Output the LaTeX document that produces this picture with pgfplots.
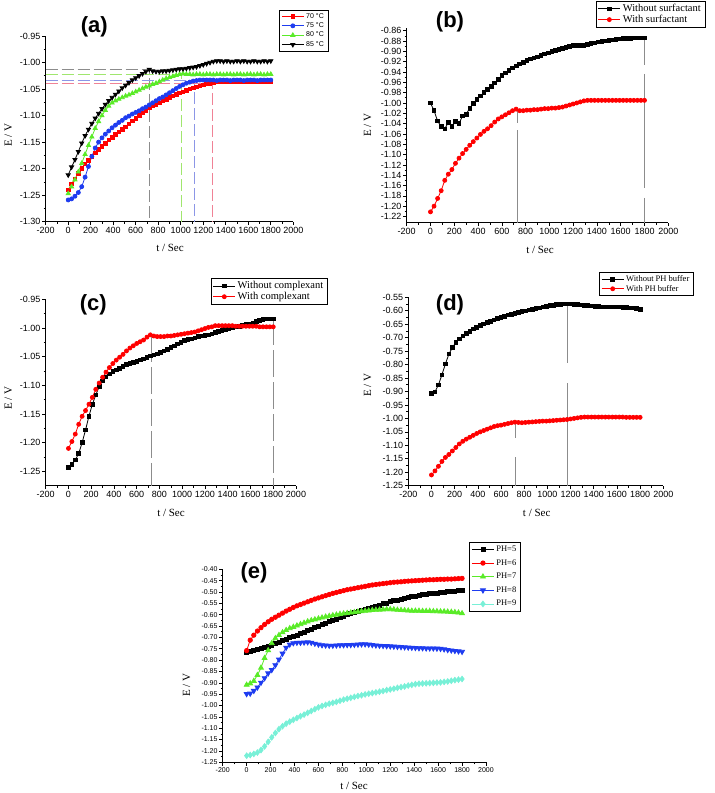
\documentclass[border=0pt]{standalone}
\usepackage{fontspec}
\setmainfont{Liberation Serif}
\newfontfamily\arial{Liberation Sans}
\usepackage{pgfplots}
\usepackage{pgfplotstable}
\pgfplotsset{compat=1.18}

\definecolor{cred}{RGB}{255,0,0}
\definecolor{cblue}{RGB}{30,60,240}
\definecolor{cgreen}{RGB}{90,235,40}
\definecolor{ccyan}{RGB}{120,240,215}
\definecolor{dgray}{RGB}{140,140,140}
\definecolor{dgreen}{RGB}{160,230,110}
\definecolor{dblue}{RGB}{140,150,230}
\definecolor{dpink}{RGB}{240,130,150}

\pgfplotstableread{
t r b g k
0 -1.240 -1.259 -1.247 -1.212
30 -1.229 -1.257 -1.234 -1.197
60 -1.219 -1.252 -1.221 -1.183
90 -1.209 -1.245 -1.206 -1.168
120 -1.199 -1.234 -1.190 -1.152
150 -1.191 -1.216 -1.173 -1.138
180 -1.184 -1.196 -1.156 -1.126
210 -1.177 -1.177 -1.140 -1.115
240 -1.170 -1.161 -1.124 -1.105
270 -1.164 -1.150 -1.111 -1.096
300 -1.158 -1.142 -1.100 -1.087
330 -1.152 -1.135 -1.090 -1.079
360 -1.146 -1.129 -1.082 -1.072
390 -1.141 -1.123 -1.076 -1.066
420 -1.136 -1.118 -1.072 -1.060
450 -1.131 -1.113 -1.069 -1.054
480 -1.126 -1.109 -1.066 -1.048
510 -1.121 -1.104 -1.063 -1.043
540 -1.116 -1.101 -1.061 -1.038
570 -1.110 -1.097 -1.058 -1.033
600 -1.105 -1.094 -1.055 -1.029
630 -1.100 -1.091 -1.052 -1.025
660 -1.095 -1.087 -1.049 -1.021
690 -1.090 -1.084 -1.046 -1.017
720 -1.085 -1.080 -1.044 -1.013
750 -1.082 -1.076 -1.041 -1.016
780 -1.079 -1.072 -1.039 -1.017
810 -1.076 -1.068 -1.036 -1.017
840 -1.072 -1.065 -1.033 -1.016
870 -1.069 -1.061 -1.030 -1.016
900 -1.066 -1.057 -1.028 -1.015
930 -1.063 -1.053 -1.026 -1.014
960 -1.060 -1.049 -1.024 -1.013
990 -1.057 -1.045 -1.022 -1.012
1020 -1.055 -1.042 -1.021 -1.012
1050 -1.053 -1.039 -1.022 -1.011
1080 -1.050 -1.037 -1.022 -1.010
1110 -1.048 -1.035 -1.023 -1.009
1140 -1.046 -1.034 -1.022 -1.008
1170 -1.044 -1.033 -1.022 -1.006
1200 -1.042 -1.033 -1.023 -1.004
1230 -1.040 -1.033 -1.022 -1.002
1260 -1.039 -1.033 -1.022 -1.000
1290 -1.037 -1.033 -1.023 -0.998
1320 -1.036 -1.034 -1.022 -0.997
1350 -1.036 -1.033 -1.022 -0.997
1380 -1.036 -1.033 -1.023 -0.998
1410 -1.036 -1.033 -1.022 -0.997
1440 -1.036 -1.034 -1.022 -0.998
1470 -1.036 -1.033 -1.023 -0.998
1500 -1.036 -1.033 -1.022 -0.997
1530 -1.036 -1.033 -1.022 -0.998
1560 -1.036 -1.034 -1.023 -0.997
1590 -1.036 -1.033 -1.022 -0.998
1620 -1.036 -1.033 -1.022 -0.998
1650 -1.036 -1.033 -1.023 -0.997
1680 -1.036 -1.034 -1.022 -0.998
1710 -1.036 -1.033 -1.022 -0.998
1740 -1.036 -1.033 -1.023 -0.997
1770 -1.036 -1.033 -1.022 -0.998
1800 -1.036 -1.033 -1.022 -0.997
}\tabA

\pgfplotstableread{
t k r
0 -1.000 -1.211
30 -1.015 -1.200
60 -1.035 -1.185
90 -1.046 -1.170
120 -1.050 -1.150
150 -1.038 -1.138
180 -1.046 -1.129
210 -1.036 -1.117
240 -1.040 -1.107
270 -1.025 -1.098
300 -1.022 -1.090
330 -1.010 -1.082
360 -1.001 -1.075
390 -0.993 -1.068
420 -0.986 -1.061
450 -0.980 -1.055
480 -0.974 -1.050
510 -0.968 -1.044
540 -0.961 -1.037
570 -0.954 -1.031
600 -0.947 -1.027
630 -0.942 -1.023
660 -0.937 -1.019
690 -0.932 -1.015
720 -0.928 -1.012
750 -0.924 -1.015
780 -0.921 -1.015
810 -0.918 -1.014
840 -0.915 -1.014
870 -0.913 -1.013
900 -0.911 -1.013
930 -0.908 -1.012
960 -0.905 -1.011
990 -0.903 -1.011
1020 -0.900 -1.010
1050 -0.898 -1.010
1080 -0.896 -1.009
1110 -0.894 -1.008
1140 -0.892 -1.006
1170 -0.890 -1.004
1200 -0.889 -1.002
1230 -0.889 -1.000
1260 -0.888 -0.998
1290 -0.888 -0.996
1320 -0.887 -0.995
1350 -0.885 -0.995
1380 -0.884 -0.995
1410 -0.882 -0.995
1440 -0.881 -0.995
1470 -0.880 -0.995
1500 -0.879 -0.995
1530 -0.878 -0.995
1560 -0.877 -0.995
1590 -0.876 -0.995
1620 -0.875 -0.995
1650 -0.875 -0.995
1680 -0.875 -0.995
1710 -0.874 -0.995
1740 -0.874 -0.995
1770 -0.874 -0.995
1800 -0.874 -0.995
}\tabB

\pgfplotstableread{
t k r
0 -1.243 -1.210
30 -1.238 -1.198
60 -1.230 -1.185
90 -1.219 -1.168
120 -1.200 -1.154
150 -1.178 -1.144
180 -1.154 -1.133
210 -1.133 -1.121
240 -1.117 -1.107
270 -1.102 -1.096
300 -1.092 -1.086
330 -1.085 -1.077
360 -1.080 -1.069
390 -1.076 -1.062
420 -1.073 -1.056
450 -1.070 -1.051
480 -1.067 -1.046
510 -1.064 -1.040
540 -1.062 -1.035
570 -1.060 -1.031
600 -1.058 -1.027
630 -1.056 -1.024
660 -1.054 -1.021
690 -1.051 -1.016
720 -1.049 -1.012
750 -1.047 -1.014
780 -1.045 -1.015
810 -1.043 -1.015
840 -1.040 -1.015
870 -1.037 -1.014
900 -1.034 -1.014
930 -1.031 -1.013
960 -1.028 -1.012
990 -1.025 -1.011
1020 -1.022 -1.010
1050 -1.020 -1.009
1080 -1.019 -1.008
1110 -1.017 -1.007
1140 -1.015 -1.005
1170 -1.014 -1.003
1200 -1.013 -1.001
1230 -1.012 -0.999
1260 -1.010 -0.998
1290 -1.008 -0.996
1320 -1.006 -0.996
1350 -1.004 -0.996
1380 -1.003 -0.996
1410 -1.001 -0.996
1440 -0.999 -0.996
1470 -0.998 -0.997
1500 -0.997 -0.997
1530 -0.996 -0.997
1560 -0.994 -0.997
1590 -0.993 -0.997
1620 -0.991 -0.997
1650 -0.989 -0.997
1680 -0.987 -0.998
1710 -0.985 -0.998
1740 -0.984 -0.998
1770 -0.984 -0.998
1800 -0.984 -0.998
}\tabC

\pgfplotstableread{
t k r
0 -0.908 -1.210
30 -0.901 -1.195
60 -0.876 -1.178
90 -0.838 -1.160
120 -0.798 -1.145
150 -0.761 -1.134
180 -0.737 -1.121
210 -0.718 -1.108
240 -0.704 -1.095
270 -0.693 -1.085
300 -0.684 -1.077
330 -0.676 -1.070
360 -0.668 -1.063
390 -0.661 -1.056
420 -0.655 -1.050
450 -0.649 -1.045
480 -0.644 -1.040
510 -0.639 -1.035
540 -0.634 -1.030
570 -0.629 -1.027
600 -0.624 -1.025
630 -0.620 -1.022
660 -0.616 -1.019
690 -0.613 -1.016
720 -0.609 -1.014
750 -0.606 -1.015
780 -0.603 -1.016
810 -0.600 -1.015
840 -0.597 -1.014
870 -0.594 -1.013
900 -0.591 -1.012
930 -0.589 -1.011
960 -0.586 -1.010
990 -0.583 -1.010
1020 -0.581 -1.009
1050 -0.579 -1.008
1080 -0.577 -1.007
1110 -0.576 -1.006
1140 -0.575 -1.005
1170 -0.575 -1.004
1200 -0.575 -1.002
1230 -0.576 -1.000
1260 -0.577 -0.998
1290 -0.578 -0.996
1320 -0.580 -0.995
1350 -0.581 -0.995
1380 -0.582 -0.995
1410 -0.583 -0.995
1440 -0.584 -0.995
1470 -0.585 -0.995
1500 -0.585 -0.995
1530 -0.585 -0.995
1560 -0.585 -0.995
1590 -0.585 -0.995
1620 -0.586 -0.995
1650 -0.587 -0.995
1680 -0.588 -0.996
1710 -0.589 -0.996
1740 -0.590 -0.996
1770 -0.592 -0.996
1800 -0.594 -0.996
}\tabD

\pgfplotstableread{
t k r g b c
0 -0.767 -0.758 -0.909 -0.949 -1.221
30 -0.762 -0.712 -0.903 -0.947 -1.218
60 -0.757 -0.690 -0.892 -0.935 -1.213
90 -0.752 -0.672 -0.866 -0.920 -1.207
120 -0.748 -0.657 -0.834 -0.899 -1.196
150 -0.744 -0.643 -0.791 -0.879 -1.180
180 -0.740 -0.631 -0.757 -0.858 -1.160
210 -0.734 -0.620 -0.726 -0.843 -1.140
240 -0.727 -0.611 -0.704 -0.822 -1.121
270 -0.721 -0.602 -0.690 -0.797 -1.104
300 -0.715 -0.593 -0.678 -0.771 -1.091
330 -0.708 -0.584 -0.668 -0.745 -1.080
360 -0.701 -0.576 -0.660 -0.731 -1.071
390 -0.695 -0.568 -0.654 -0.725 -1.063
420 -0.689 -0.561 -0.648 -0.723 -1.055
450 -0.683 -0.555 -0.642 -0.723 -1.047
480 -0.677 -0.549 -0.636 -0.722 -1.040
510 -0.670 -0.543 -0.630 -0.721 -1.032
540 -0.664 -0.537 -0.625 -0.723 -1.024
570 -0.657 -0.531 -0.621 -0.727 -1.016
600 -0.650 -0.526 -0.617 -0.731 -1.008
630 -0.644 -0.521 -0.613 -0.734 -1.002
660 -0.638 -0.516 -0.609 -0.735 -0.997
690 -0.631 -0.511 -0.606 -0.736 -0.992
720 -0.625 -0.506 -0.603 -0.736 -0.988
750 -0.619 -0.502 -0.600 -0.735 -0.984
780 -0.612 -0.498 -0.597 -0.734 -0.979
810 -0.606 -0.494 -0.595 -0.734 -0.974
840 -0.600 -0.490 -0.593 -0.733 -0.970
870 -0.595 -0.487 -0.591 -0.733 -0.966
900 -0.590 -0.484 -0.589 -0.732 -0.962
930 -0.585 -0.481 -0.587 -0.731 -0.958
960 -0.580 -0.478 -0.585 -0.730 -0.955
990 -0.576 -0.475 -0.583 -0.730 -0.951
1020 -0.571 -0.472 -0.582 -0.731 -0.948
1050 -0.566 -0.469 -0.580 -0.733 -0.945
1080 -0.562 -0.467 -0.579 -0.735 -0.942
1110 -0.557 -0.465 -0.578 -0.736 -0.939
1140 -0.552 -0.463 -0.577 -0.737 -0.936
1170 -0.548 -0.461 -0.576 -0.738 -0.932
1200 -0.543 -0.459 -0.576 -0.739 -0.929
1230 -0.539 -0.457 -0.577 -0.740 -0.926
1260 -0.535 -0.456 -0.579 -0.741 -0.922
1290 -0.531 -0.455 -0.580 -0.742 -0.919
1320 -0.527 -0.453 -0.581 -0.743 -0.916
1350 -0.524 -0.452 -0.582 -0.744 -0.912
1380 -0.521 -0.451 -0.583 -0.745 -0.909
1410 -0.518 -0.450 -0.583 -0.746 -0.906
1440 -0.515 -0.449 -0.583 -0.747 -0.904
1470 -0.512 -0.448 -0.584 -0.747 -0.903
1500 -0.510 -0.447 -0.584 -0.748 -0.902
1530 -0.508 -0.446 -0.584 -0.748 -0.901
1560 -0.506 -0.446 -0.585 -0.748 -0.900
1590 -0.504 -0.445 -0.585 -0.749 -0.899
1620 -0.502 -0.444 -0.586 -0.750 -0.898
1650 -0.500 -0.444 -0.586 -0.752 -0.896
1680 -0.499 -0.443 -0.587 -0.755 -0.894
1710 -0.497 -0.443 -0.588 -0.757 -0.891
1740 -0.496 -0.442 -0.589 -0.759 -0.888
1770 -0.495 -0.441 -0.591 -0.761 -0.886
1800 -0.494 -0.440 -0.594 -0.763 -0.883
}\tabE

\pgfplotsset{
 panel/.style={
  scale only axis, axis lines*=left, tick align=outside,
  anchor=south west,
  xmin=-200, xmax=2000, xtick={-200,0,...,2000},
  minor x tick num=1, minor y tick num=1,
  major tick length=3.5pt, minor tick length=2pt,
  tick style={black, line width=0.6pt},
  axis line style={black, line width=0.7pt},
  /pgf/number format/assume math mode=true,
  x tick label style={/pgf/number format/1000 sep={}},
  y tick label style={/pgf/number format/.cd, fixed, fixed zerofill, precision=2},
  tick label style={font=\arial\fontsize{9}{9}\selectfont, inner sep=1.5pt},
  legend cell align=left,
  legend image code/.code={\draw[mark repeat=2,mark phase=2,##1] plot coordinates {(0pt,0pt)(11pt,0pt)(22pt,0pt)};},
  legend style={draw=black, line width=0.5pt, anchor=north west, inner xsep=2pt, inner ysep=1pt, row sep=-2pt},
  every axis plot/.append style={line width=0.8pt},
 },
 refl/.style={forget plot, no markers, line width=0.8pt},
}

\begin{document}
\begin{tikzpicture}
\path[use as bounding box] (0,0) rectangle (715pt,793pt);

% ---------------- (a)
\begin{axis}[panel, at={(45.7pt,571.3pt)}, width=247.6pt, height=185.7pt,
  ymin=-1.30, ymax=-0.95, ytick={-1.30,-1.25,-1.20,-1.15,-1.10,-1.05,-1.00,-0.95},
  legend style={at={(axis description cs:0.943,1.140)}, font=\arial\fontsize{7}{8}\selectfont, row sep=-1pt}]
\addplot[refl, dgray, dash pattern=on 12pt off 4pt] coordinates {(-200,-1.013) (718,-1.013) (718,-1.30)};
\addplot[refl, dgreen, dash pattern=on 12pt off 4pt] coordinates {(-200,-1.023) (1008,-1.023) (1008,-1.30)};
\addplot[refl, dblue, dash pattern=on 12pt off 4pt] coordinates {(-200,-1.034) (1120,-1.034) (1120,-1.30)};
\addplot[refl, dpink, dash pattern=on 12pt off 4pt] coordinates {(-200,-1.040) (1280,-1.040) (1280,-1.30)};
\addplot[cred, mark=square*, mark size=1.8pt] table[x=t,y=r] {\tabA};
\addlegendentry{70 °C}
\addplot[cblue, mark=*, mark size=2.0pt] table[x=t,y=b] {\tabA};
\addlegendentry{75 °C}
\addplot[cgreen, mark=triangle*, mark size=2.4pt] table[x=t,y=g] {\tabA};
\addlegendentry{80 °C}
\addplot[black, mark=triangle*, mark size=2.4pt, mark options={rotate=180}] table[x=t,y=k] {\tabA};
\addlegendentry{85 °C}
\end{axis}

% ---------------- (b)
\begin{axis}[panel, at={(406.7pt,570.3pt)}, width=261.6pt, height=194.6pt,
  ymin=-1.232, ymax=-0.855,
  ytick={-1.22,-1.20,-1.18,-1.16,-1.14,-1.12,-1.10,-1.08,-1.06,-1.04,-1.02,-1.00,-0.98,-0.96,-0.94,-0.92,-0.90,-0.88,-0.86},
  legend style={at={(axis description cs:0.7225,1.139)}, font=\fontsize{10.5}{11}\selectfont}]
\addplot[refl, dgray, dash pattern=on 14pt off 7pt on 200pt] coordinates {(735,-1.012) (735,-1.232)};
\addplot[refl, dgray, dash pattern=on 27pt off 9pt on 114pt off 10pt] coordinates {(1800,-0.874) (1800,-1.232)};
\addplot[black, mark=square*, mark size=1.8pt] table[x=t,y=k] {\tabB};
\addlegendentry{Without surfactant}
\addplot[cred, mark=*, mark size=2.0pt] table[x=t,y=r] {\tabB};
\addlegendentry{With surfactant}
\end{axis}

% ---------------- (c)
\begin{axis}[panel, at={(45.7pt,307.3pt)}, width=250.3pt, height=186.4pt,
  ymin=-1.275, ymax=-0.95, ytick={-1.25,-1.20,-1.15,-1.10,-1.05,-1.00,-0.95},
  legend style={at={(axis description cs:0.659,1.1127)}, font=\fontsize{10.5}{11}\selectfont}]
\addplot[refl, dgray, dash pattern=on 27pt off 5pt] coordinates {(730,-1.012) (730,-1.275)};
\addplot[refl, dgray, dash pattern=on 27pt off 5pt] coordinates {(1800,-0.983) (1800,-1.275)};
\addplot[black, mark=square*, mark size=1.8pt] table[x=t,y=k] {\tabC};
\addlegendentry{Without complexant}
\addplot[cred, mark=*, mark size=2.0pt] table[x=t,y=r] {\tabC};
\addlegendentry{With complexant}
\end{axis}

% ---------------- (d)
\begin{axis}[panel, at={(408.3pt,307.3pt)}, width=255pt, height=188.4pt,
  ymin=-1.25, ymax=-0.55,
  ytick={-1.25,-1.20,-1.15,-1.10,-1.05,-1.00,-0.95,-0.90,-0.85,-0.80,-0.75,-0.70,-0.65,-0.60,-0.55},
  legend style={at={(axis description cs:0.748,1.1327)}, font=\fontsize{8.5}{9}\selectfont}]
\addplot[refl, dgray, dash pattern=on 16pt off 19pt on 60pt] coordinates {(720,-1.014) (720,-1.25)};
\addplot[refl, dgray, dash pattern=on 59pt off 20pt on 120pt] coordinates {(1170,-0.575) (1170,-1.25)};
\addplot[black, mark=square*, mark size=1.8pt] table[x=t,y=k] {\tabD};
\addlegendentry{Without PH buffer}
\addplot[cred, mark=*, mark size=2.0pt] table[x=t,y=r] {\tabD};
\addlegendentry{With PH buffer}
\end{axis}

% ---------------- (e)
\begin{axis}[panel, at={(222.7pt,30.7pt)}, width=263.3pt, height=193pt,
  ymin=-1.25, ymax=-0.40,
  ytick={-1.25,-1.20,-1.15,-1.10,-1.05,-1.00,-0.95,-0.90,-0.85,-0.80,-0.75,-0.70,-0.65,-0.60,-0.55,-0.50,-0.45,-0.40},
  tick label style={font=\arial\fontsize{7}{7}\selectfont},
  legend style={at={(axis description cs:0.9366,1.143)}, font=\fontsize{8.5}{9}\selectfont, row sep=2.5pt, inner ysep=2pt}]
\addplot[black, mark=square*, mark size=2.0pt] table[x=t,y=k] {\tabE};
\addlegendentry{PH=5}
\addplot[cred, mark=*, mark size=2.2pt] table[x=t,y=r] {\tabE};
\addlegendentry{PH=6}
\addplot[cgreen, mark=triangle*, mark size=2.8pt] table[x=t,y=g] {\tabE};
\addlegendentry{PH=7}
\addplot[cblue, mark=triangle*, mark size=2.8pt, mark options={rotate=180}] table[x=t,y=b] {\tabE};
\addlegendentry{PH=8}
\addplot[ccyan, mark=diamond*, mark size=2.8pt] table[x=t,y=c] {\tabE};
\addlegendentry{PH=9}
\end{axis}

% axis titles
\node[rotate=90, font=\fontsize{11}{11}\selectfont] at (8.3pt,658pt) {E / V};
\node[font=\fontsize{11}{11}\selectfont] at (170pt,544.7pt) {t / Sec};
\node[rotate=90, font=\fontsize{11}{11}\selectfont] at (367.7pt,668pt) {E / V};
\node[font=\fontsize{11}{11}\selectfont] at (540pt,543pt) {t / Sec};
\node[rotate=90, font=\fontsize{11}{11}\selectfont] at (8.3pt,394.7pt) {E / V};
\node[font=\fontsize{11}{11}\selectfont] at (171pt,279.7pt) {t / Sec};
\node[rotate=90, font=\fontsize{11}{11}\selectfont] at (367.7pt,408pt) {E / V};
\node[font=\fontsize{11}{11}\selectfont] at (536.7pt,279.7pt) {t / Sec};
\node[rotate=90, font=\fontsize{11}{11}\selectfont] at (186.7pt,108pt) {E / V};
\node[font=\fontsize{11}{11}\selectfont] at (354pt,6.8pt) {t / Sec};

% panel labels
\node[font=\arial\bfseries\fontsize{22}{22}\selectfont] at (94.3pt,766.3pt) {(a)};
\node[font=\arial\bfseries\fontsize{22}{22}\selectfont] at (450pt,770.7pt) {(b)};
\node[font=\arial\bfseries\fontsize{22}{22}\selectfont] at (93.3pt,488pt) {(c)};
\node[font=\arial\bfseries\fontsize{22}{22}\selectfont] at (450pt,488pt) {(d)};
\node[font=\arial\bfseries\fontsize{22}{22}\selectfont] at (254pt,219.7pt) {(e)};
\end{tikzpicture}
\end{document}
